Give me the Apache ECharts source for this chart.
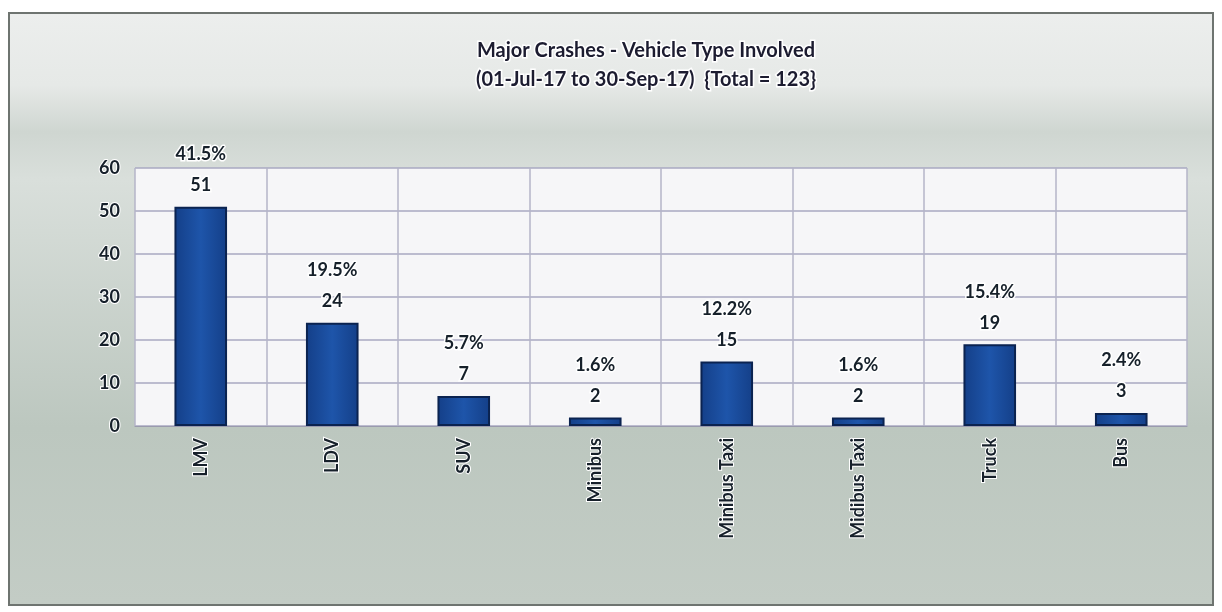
<!DOCTYPE html>
<html>
<head>
<meta charset="utf-8">
<script src="https://cdn.jsdelivr.net/npm/echarts@6/dist/echarts.min.js"></script>
<style>
  html, body { margin: 0; padding: 0; background: #fff; }
  #chart {
    position: absolute; left: 8px; top: 12px; width: 1206px; height: 594px;
    border: 2px solid #6e7470; box-sizing: border-box;
  }
</style>
</head>
<body>
<div id="chart"></div>
<script>
// data
const categories = ['LMV', 'LDV', 'SUV', 'Minibus', 'Minibus Taxi', 'Midibus Taxi', 'Truck', 'Bus'];
const crashes = [51, 24, 7, 2, 15, 2, 19, 3];
const percents = ['41.5%', '19.5%', '5.7%', '1.6%', '12.2%', '1.6%', '15.4%', '2.4%'];
const yTicks = [0, 10, 20, 30, 40, 50, 60];

const chart = echarts.init(document.getElementById('chart'));
const font = 'Lato, "Open Sans", sans-serif';

let option = {
    backgroundColor: {
        type: 'linear', x: 0, y: 0, x2: 0, y2: 1,
        colorStops: [
            { offset: 0, color: '#eceeed' },
            { offset: 0.12, color: '#e6e9e7' },
            { offset: 0.2, color: '#cfd6d1' },
            { offset: 0.28, color: '#d9dfdb' },
            { offset: 0.7, color: '#bcc7bf' },
            { offset: 1, color: '#c3ccc5' }
        ]
    },
    title: {
        text: 'Major Crashes - Vehicle Type Involved\n(01-Jul-17 to 30-Sep-17)  {Total = 123}',
        left: 631, top: 17, textAlign: 'center',
        textStyle: {
            fontFamily: font, fontWeight: 'bold', fontSize: 20, lineHeight: 29,
            color: '#1c1c30', textBorderColor: '#ffffff', textBorderWidth: 3
        }
    },
    grid: { left: 125, right: 25, top: 154, bottom: 178 },
    xAxis: {
        type: 'category',
        data: categories,
        axisLine: { show: true, lineStyle: { color: '#9a9aae' } },
        axisTick: { show: false },
        splitLine: { show: true, lineStyle: { color: '#b4b4c8', width: 1.5 } },
        axisLabel: {
            rotate: 90, margin: 12,
            fontFamily: font, fontWeight: 'bold', fontSize: 18, color: '#16202a',
            textBorderColor: '#ffffff', textBorderWidth: 2
        }
    },
    yAxis: {
        type: 'value', min: 0, max: 60, interval: 10,
        axisLine: { show: false },
        axisTick: { show: false },
        splitLine: { show: true, lineStyle: { color: '#a8a8c2', width: 1.5 } },
        splitArea: { show: true, areaStyle: { color: ['#f6f6f8', '#f6f6f8'] } },
        axisLabel: {
            margin: 15,
            fontFamily: font, fontWeight: 'bold', fontSize: 18, color: '#16202a',
            textBorderColor: '#ffffff', textBorderWidth: 2,
            formatter: v => yTicks.includes(v) ? String(v) : ''
        }
    },
    series: [{
        type: 'bar',
        data: crashes,
        barWidth: '40%',
        itemStyle: {
            color: {
                type: 'linear', x: 0, y: 0, x2: 1, y2: 0,
                colorStops: [
                    { offset: 0, color: '#143f88' },
                    { offset: 0.5, color: '#1e55aa' },
                    { offset: 1, color: '#143f88' }
                ]
            },
            borderColor: '#0b2350', borderWidth: 2
        },
        label: {
            show: true, position: 'top', distance: 6,
            fontFamily: font, fontWeight: 'bold', fontSize: 18, lineHeight: 31,
            color: '#16202a', textBorderColor: '#ffffff', textBorderWidth: 3,
            formatter: p => percents[p.dataIndex] + '\n' + p.value
        }
    }]
};
chart.setOption(option);
</script>
</body>
</html>
